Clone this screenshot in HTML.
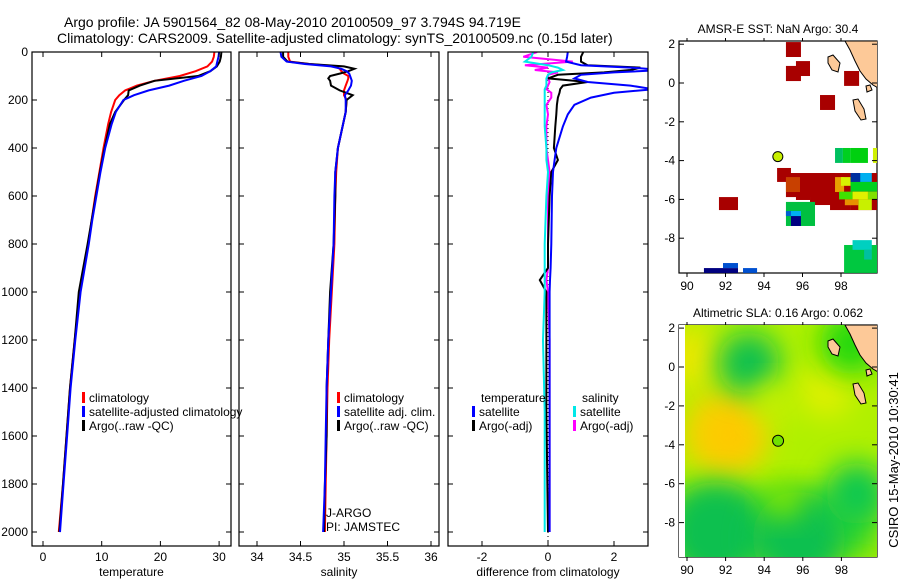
<!DOCTYPE html>
<html><head><meta charset="utf-8"><style>
body{margin:0;background:#fff}
svg{display:block;font-family:"Liberation Sans",sans-serif}
text{fill:#000}
</style></head><body>
<svg id="fig" width="900" height="580" viewBox="0 0 900 580">
<defs>
<clipPath id="c1"><rect x="32" y="52" width="199" height="494"/></clipPath>
<clipPath id="c2"><rect x="239" y="52" width="200" height="494"/></clipPath>
<clipPath id="c3"><rect x="448" y="52" width="200" height="494"/></clipPath>
<clipPath id="cm1"><rect x="679" y="41" width="198" height="232"/></clipPath>
<clipPath id="cm2"><rect x="679" y="325" width="198" height="232"/></clipPath>
<filter id="blur" x="-50%" y="-50%" width="200%" height="200%"><feGaussianBlur stdDeviation="14"/></filter>
</defs>
<text x="64" y="27" font-size="14">Argo profile: JA 5901564_82 08-May-2010 20100509_97 3.794S 94.719E</text>
<text x="57" y="43" font-size="14">Climatology: CARS2009. Satellite-adjusted climatology: synTS_20100509.nc (0.15d later)</text>
<g id="g1" clip-path="url(#c1)"></g>
<g id="g2" clip-path="url(#c2)"></g>
<g id="g3" clip-path="url(#c3)"></g>
<g id="axes"></g>
<g id="m1" clip-path="url(#cm1)"></g>
<g id="m2" clip-path="url(#cm2)"></g>
<g id="maxes"></g>
<text x="778" y="33" font-size="12" text-anchor="middle">AMSR-E SST: NaN Argo: 30.4</text>
<text x="778" y="317" font-size="12" text-anchor="middle">Altimetric SLA: 0.16 Argo: 0.062</text>
<text transform="translate(898,460) rotate(-90)" font-size="13" text-anchor="middle">CSIRO 15-May-2010 10:30:41</text>
</svg>
<script>
// ---- data ----
const tDepth=[0,20,40,60,80,100,120,140,160,180,200,250,300,400,500,600,700,800,1000,1200,1400,1600,1800,2000];
const tClim=[29.2,29.1,28.8,28,26,23.3,19,16,14,13,12.3,11.6,11.1,10.3,9.6,8.9,8.3,7.7,6.3,5.4,4.6,4,3.4,2.7];
const tSat=[30,29.9,29.7,29.5,28.5,27,24,21.5,18,15.5,13.7,12.4,11.7,10.6,9.8,9.1,8.4,7.8,6.4,5.5,4.7,4.1,3.5,2.9];
const tArgo=[30.4,30.3,30.1,29.6,28.5,26.4,19,16.5,14.6,14.5,13.8,12.3,11.4,10.5,9.7,9.0,8.3,7.6,6.1,5.4,4.6,4.0,3.4,2.8];
const sDepth=[0,20,40,50,60,70,80,90,100,110,120,140,160,180,200,250,300,400,500,600,800,1000,1200,1400,1600,1800,2000];
const sClim=[34.36,34.36,34.38,34.6,34.9,34.95,34.97,35.0,35.05,35.05,35.04,35.02,35.0,35.0,35.03,35.02,34.99,34.93,34.91,34.9,34.89,34.86,34.83,34.81,34.8,34.79,34.78];
const sSat=[34.27,34.28,34.34,34.55,34.85,34.97,35.03,35.06,35.07,35.08,35.09,35.08,35.05,35.01,35.02,35.02,34.99,34.93,34.9,34.89,34.88,34.85,34.82,34.8,34.79,34.78,34.76];
const sArgo=[34.3,34.3,34.35,34.6,35.0,35.12,35.05,34.95,34.84,34.82,34.84,34.85,34.95,35.1,35.03,35.02,34.99,34.93,34.9,34.9,34.88,34.84,34.82,34.8,34.8,34.78,34.77];
const dDepth=[0,20,40,55,65,75,85,95,110,125,140,155,170,190,220,260,310,400,450,500,600,800,900,950,1000,1200,1500,2000];
const dTsat=[0.6,0.58,0.55,1.0,2.5,3.5,2.0,1.0,0.8,1.2,2.5,3.2,2.0,1.3,0.8,0.6,0.45,0.25,0.2,0.15,0.12,0.1,0.08,0.06,0.05,0.05,0.05,0.05];
const dTargo=[1.07,1.0,1.0,1.2,2.8,2.5,1.7,0.3,0,1.2,0.45,0.37,0.35,0.3,0.27,0.25,0.22,0.18,0.3,0.1,0.05,0,0,-0.25,-0.05,-0.05,-0.05,0];
const dSsat=[-0.45,-0.5,-0.7,0,0.3,0.45,0.1,0,-0.05,-0.05,-0.05,-0.1,-0.1,-0.1,-0.1,-0.1,-0.1,-0.05,-0.05,0,-0.05,-0.1,-0.1,-0.1,-0.1,-0.15,-0.1,-0.1];
const dSargo=[-0.33,-0.75,0.75,-0.7,0,-0.4,0.3,0,0,0.05,0,-0.05,0.1,0.1,-0.05,0,-0.05,-0.05,0,0.05,0,0,0,-0.05,0,0.05,0.05,0.05];
const depthTicks=[0,200,400,600,800,1000,1200,1400,1600,1800,2000];
const tTicks=[0,10,20,30];
const sTicks=[34,34.5,35,35.5,36];
const dTicks=[-2,0,2];
const latTicks=[2,0,-2,-4,-6,-8];
const lonTicks=[90,92,94,96,98];
// SST cells: [lon0, latTop, lon1, latBottom, color]
const sstCells=[
[95.14,2.11,95.92,1.34,'#a80000'],[95.66,1.13,96.39,0.36,'#a80000'],[95.14,0.88,95.92,0.10,'#a80000'],
[98.16,0.62,98.94,-0.15,'#a80000'],[96.91,-0.62,97.69,-1.39,'#a80000'],
[97.69,-3.35,98.10,-4.12,'#00c060'],[98.10,-3.35,98.50,-4.12,'#00d020'],[98.50,-3.35,99.40,-4.12,'#00d010'],[99.66,-3.35,99.87,-4.12,'#d0f000'],
[94.68,-4.38,95.40,-5.10,'#a80000'],[95.14,-4.64,97.69,-5.88,'#a80000'],[95.14,-4.85,95.87,-5.62,'#c84000'],
[95.66,-5.62,96.39,-6.03,'#a80000'],[96.39,-5.62,97.69,-6.29,'#a80000'],[97.43,-4.64,98.47,-6.55,'#a80000'],
[98.47,-4.64,99.87,-6.55,'#a80000'],[97.69,-4.85,98.16,-5.62,'#e8a000'],[98.0,-4.85,98.5,-5.3,'#d8f000'],
[98.5,-4.64,99.2,-5.1,'#0030a0'],[99.0,-4.64,99.6,-5.1,'#00b0f0'],[98.5,-5.1,99.87,-5.6,'#00d020'],
[97.9,-5.6,98.6,-6.0,'#40e000'],[98.6,-5.6,99.4,-6.0,'#e0f000'],[99.4,-5.6,99.87,-6.0,'#80e000'],
[98.9,-6.0,99.6,-6.55,'#c8f000'],[98.2,-6.0,98.9,-6.3,'#e89000'],
[91.66,-5.88,92.65,-6.55,'#a80000'],
[95.14,-6.13,96.65,-7.37,'#00c040'],[95.14,-6.60,95.66,-6.86,'#0060d0'],[95.4,-6.60,95.92,-6.86,'#00b0f0'],[95.4,-6.86,95.92,-7.37,'#000080'],
[98.16,-8.35,99.87,-9.79,'#00c840'],[98.6,-8.1,99.6,-8.6,'#00d0c0'],[99.2,-8.6,99.6,-9.1,'#00c0a0'],
[90.88,-9.54,92.65,-9.79,'#000080'],[91.87,-9.28,92.65,-9.54,'#0050d0'],[92.91,-9.54,93.64,-9.79,'#0050d0']
];
// SLA field blobs: [lon, lat, radiusDeg, color]
const slaBlobs=[
[90.2,0.5,1.6,'#e8e800'],[92.0,-3.4,2.2,'#f8d000'],[92.3,-3.5,1.1,'#ffc800'],[93.2,0.2,1.6,'#10c050'],
[97.2,-1.2,1.4,'#e0f000'],[94.5,-1.8,1.0,'#c8f000'],[91.5,-8.5,2.6,'#10c050'],[95.8,-8.8,2.4,'#10c050'],
[98.8,-6.5,1.6,'#10c850'],[98.5,1.2,1.6,'#20d810'],[95.0,-6.8,1.0,'#80e800']
];
const argoLon=94.719, argoLat=-3.794;

const NS='http://www.w3.org/2000/svg';
function mk(tag,attrs,parent){const e=document.createElementNS(NS,tag);for(const k in attrs)e.setAttribute(k,attrs[k]);(parent||document.getElementById('fig')).appendChild(e);return e;}
const yD=d=>52+d*0.24;
const xT=v=>43+v*5.87;
const xS=v=>257+(v-34)*87;
const xDf=v=>548+v*33;
const lonX1=l=>687+(l-90)*19.25, latY1=l=>83-l*19.4;
const lonX2=l=>687+(l-90)*19.3, latY2=l=>367-l*19.45;

function line(g,depths,vals,xf,color,name){
  const pts=depths.map((d,i)=>xf(vals[i]).toFixed(1)+','+yD(d).toFixed(1)).join(' ');
  const p=mk('polyline',{points:pts,fill:'none',stroke:color,'stroke-width':2},g);
  
  
}
const g1=document.getElementById('g1'),g2=document.getElementById('g2'),g3=document.getElementById('g3');
line(g1,tDepth,tClim,xT,'#ff0000','temp-climatology-line');
line(g1,tDepth,tArgo,xT,'#000000','temp-argo-line');
line(g1,tDepth,tSat,xT,'#0000ff','temp-satellite-line');
line(g2,sDepth,sClim,xS,'#ff0000','sal-climatology-line');
line(g2,sDepth,sArgo,xS,'#000000','sal-argo-line');
line(g2,sDepth,sSat,xS,'#0000ff','sal-satellite-line');
const zl=mk('line',{x1:xDf(0),x2:xDf(0),y1:52,y2:546,stroke:'#000','stroke-width':1,'stroke-dasharray':'1,3'},g3);


line(g3,dDepth,dSargo,xDf,'#ff00ff','diff-sal-argo-line');
line(g3,dDepth,dTargo,xDf,'#000000','diff-temp-argo-line');
line(g3,dDepth,dTsat,xDf,'#0000ff','diff-temp-satellite-line');
line(g3,dDepth,dSsat,xDf,'#00e8e8','diff-sal-satellite-line');

const ax=document.getElementById('axes');
function frame(x0,x1,y0,y1,name){const r=mk('rect',{x:x0,y:y0,width:x1-x0,height:y1-y0,fill:'none',stroke:'#000','stroke-width':1.2},ax);}
const panels=[[32,231,tTicks,xT,'temperature','temp'],[239,439,sTicks,xS,'salinity','sal'],[448,648,dTicks,xDf,'difference from climatology','diff']];
panels.forEach(([x0,x1,ticks,xf,label,key])=>{
  frame(x0,x1,52,546,key+'-panel-frame');
  depthTicks.forEach(d=>{const y=yD(d);mk('line',{x1:x0,x2:x0+5,y1:y,y2:y,stroke:'#000'},ax);mk('line',{x1:x1-5,x2:x1,y1:y,y2:y,stroke:'#000'},ax);});
  ticks.forEach(v=>{const x=xf(v);mk('line',{x1:x,x2:x,y1:546,y2:541,stroke:'#000'},ax);mk('line',{x1:x,x2:x,y1:52,y2:57,stroke:'#000'},ax);
    const t=mk('text',{x:x,y:561,'font-size':12,'text-anchor':'middle'},ax);t.textContent=String(v);
    
    });
  const t=mk('text',{x:(x0+x1)/2,y:576,'font-size':12,'text-anchor':'middle'},ax);t.textContent=label;
  
  
});
depthTicks.forEach(d=>{const t=mk('text',{x:28,y:yD(d)+4,'font-size':12,'text-anchor':'end'},ax);t.textContent=String(d);
  
  });

function legend(x,y,color,txt,name){
  if(color){const r=mk('rect',{x:x,y:y-10,width:3,height:11,fill:color},ax);}
  const t=mk('text',{x:x+7,y:y,'font-size':12},ax);t.textContent=txt;
  
  
}
legend(82,402,'#ff0000','climatology','legend-climatology');
legend(82,416,'#0000ff','satellite-adjusted climatology','legend-satellite-adjusted');
legend(82,430,'#000000','Argo(..raw -QC)','legend-argo');
legend(337,402,'#ff0000','climatology','legend-sal-climatology');
legend(337,416,'#0000ff','satellite adj. clim.','legend-sal-satellite');
legend(337,430,'#000000','Argo(..raw -QC)','legend-sal-argo');
legend(474,402,null,'temperature','legend-diff-temperature-heading');
legend(472,416,'#0000ff','satellite','legend-diff-temp-satellite');
legend(472,430,'#000000','Argo(-adj)','legend-diff-temp-argo');
legend(575,402,null,'salinity','legend-diff-salinity-heading');
legend(573,416,'#00e8e8','satellite','legend-diff-sal-satellite');
legend(573,430,'#ff00ff','Argo(-adj)','legend-diff-sal-argo');
let tj=mk('text',{x:326,y:517,'font-size':12},ax);tj.textContent='J-ARGO';


tj=mk('text',{x:326,y:531,'font-size':12},ax);tj.textContent='PI: JAMSTEC';



// ---- maps ----
const m1=document.getElementById('m1'),m2=document.getElementById('m2'),max=document.getElementById('maxes');
sstCells.forEach(c=>{const r=mk('rect',{x:lonX1(c[0]),y:latY1(c[1]),width:lonX1(c[2])-lonX1(c[0]),height:latY1(c[3])-latY1(c[1]),fill:c[4]},m1);
  
  });
function land(g,oy){
  const sty={fill:'#fdc998',stroke:'#000','stroke-width':1};
  mk('path',Object.assign({d:`M845 ${oy} L880 ${oy} L880 ${oy+48} L873 ${oy+44} L866 ${oy+38} L860 ${oy+30} L855 ${oy+20} L850 ${oy+9} Z`},sty),g);
  mk('path',Object.assign({d:`M828 ${oy+16} L833 ${oy+14} L840 ${oy+22} L838 ${oy+31} L832 ${oy+29} L828 ${oy+22} Z`},sty),g);
  mk('path',Object.assign({d:`M853 ${oy+59} L858 ${oy+58} L864 ${oy+68} L866 ${oy+78} L861 ${oy+79} L855 ${oy+70} Z`},sty),g);
  mk('path',Object.assign({d:`M866 ${oy+45} L870 ${oy+44} L872 ${oy+49} L867 ${oy+51} Z`},sty),g);
}
land(m1,41);
// SLA
const bg=mk('rect',{x:679,y:325,width:198,height:232,fill:'#b0f000'},m2);


mk('rect',{x:679,y:495,width:198,height:62,fill:'#40d820',filter:'url(#blur)'},m2);
slaBlobs.forEach(b=>{const e=mk('ellipse',{cx:lonX2(b[0]),cy:latY2(b[1]),rx:b[2]*19.3,ry:b[2]*19.45,fill:b[3],filter:'url(#blur)'},m2);
  
  });
mk('rect',{x:679,y:325,width:6,height:232,fill:'#fff'},m2);
land(m2,325);
let d1=mk('circle',{cx:lonX1(argoLon),cy:latY1(argoLat),r:5,fill:'#c8f000',stroke:'#000','stroke-width':1},m1);


d1=mk('circle',{cx:lonX2(argoLon),cy:latY2(argoLat),r:5.5,fill:'#70e000',stroke:'#000','stroke-width':1},m2);


[[41,273,lonX1,latY1,'sst'],[325,557,lonX2,latY2,'sla']].forEach(([y0,y1,lx,ly,key])=>{
  frame(679,877,y0,y1,key+'-map-frame');
  latTicks.forEach(l=>{const y=ly(l);mk('line',{x1:679,x2:684,y1:y,y2:y,stroke:'#000'},max);mk('line',{x1:872,x2:877,y1:y,y2:y,stroke:'#000'},max);
    const t=mk('text',{x:675,y:y+4,'font-size':12,'text-anchor':'end'},max);t.textContent=String(l);
    
    });
  lonTicks.forEach(l=>{const x=lx(l);mk('line',{x1:x,x2:x,y1:y1,y2:y1+4,stroke:'#000'},max);mk('line',{x1:x,x2:x,y1:y0,y2:y0-3,stroke:'#000'},max);
    const t=mk('text',{x:x,y:y1+17,'font-size':12,'text-anchor':'middle'},max);t.textContent=String(l);
    
    });
});
</script>
</body></html>
